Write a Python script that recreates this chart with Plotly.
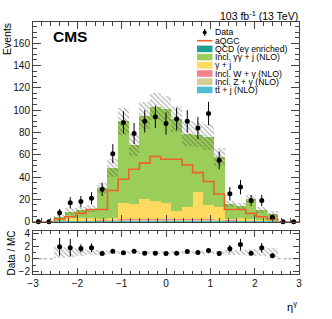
import plotly.graph_objects as go
import numpy as np

# ---------------- data ----------------
eta_centers = [-2.88, -2.64, -2.40, -2.16, -1.92, -1.68, -1.44, -1.20, -0.96, -0.72,
               -0.48, -0.24, 0.00, 0.24, 0.48, 0.72, 0.96, 1.20, 1.44, 1.68,
               1.92, 2.16, 2.40, 2.64, 2.88]
bin_width = 0.24

data_counts = [0, 0, 8, 17, 18, 21, 29, 61, 89, 79, 90, 94, 88, 92, 90, 84, 97, 55, 25, 31, 19, 19, 4, 0, 0]
data_err = [0, 0, 3.5, 5, 5, 5.5, 6, 8.5, 10, 9.5, 10, 10, 10, 10, 10, 10, 10.5, 8, 6, 6.5, 5, 5, 2.5, 0, 0]

qcd = [0, 0, 0.2, 0.3, 0.3, 0.3, 0.4, 0.5, 0.6, 0.6, 0.6, 0.6, 0.6, 0.6, 0.6, 0.6, 0.6, 0.5, 0.4, 0.3, 0.3, 0.3, 0.2, 0, 0]
ttj = [0, 0, 0.0, 0.1, 0.1, 0.1, 0.1, 0.2, 0.2, 0.2, 0.2, 0.2, 0.2, 0.2, 0.2, 0.2, 0.2, 0.2, 0.1, 0.1, 0.1, 0.1, 0.0, 0, 0]
zg = [0, 0, 0.2, 0.3, 0.3, 0.3, 0.4, 0.6, 0.7, 0.7, 0.7, 0.7, 0.7, 0.7, 0.7, 0.7, 0.7, 0.6, 0.4, 0.3, 0.3, 0.3, 0.2, 0, 0]
wg = [0, 0, 0.1, 0.2, 0.2, 0.2, 0.3, 0.4, 0.5, 0.5, 0.5, 0.5, 0.5, 0.5, 0.5, 0.5, 0.5, 0.4, 0.3, 0.2, 0.2, 0.2, 0.1, 0, 0]
gj = [0, 0, 0.5, 2.1, 2.6, 2.1, 0.8, 1.8, 14.5, 14.0, 18.5, 17.0, 15.0, 7.6, 11.0, 25.0, 13.0, 11.3, 0.8, 2.1, 1.1, 0.6, 0.0, 0, 0]
gg = [0, 0, 3.0, 6.0, 7.1, 8.7, 28.0, 44.5, 73.5, 53.0, 74.5, 84.0, 84.0, 82.4, 66.0, 51.0, 61.0, 45.0, 14.0, 11.0, 18.0, 9.0, 6.5, 0, 0]
mc_unc = [0, 0, 2, 3, 3, 3, 4.5, 8, 12, 10, 12, 12, 12, 12, 11, 11, 12, 8, 3, 3, 3.5, 3, 2.5, 0, 0]
aqgc = [0, 0, 2.4, 4.5, 7.5, 11, 11, 28, 38, 47, 52.5, 58.5, 56, 56, 50.8, 44, 36, 24.8, 11, 11, 7.5, 4.5, 2.4, 0, 0]

ratio = [None, None, 1.9, 1.75, 1.65, 1.75, 0.85, 1.2, 0.95, 1.2, 0.9, 0.9, 0.85, 0.9, 1.15, 1.0, 1.3, 0.85,
         1.6, 2.25, 0.9, 1.75, 0.5, None, None]
ratio_err = [0, 0, 1.4, 1.4, 0.65, 0.7, 0.2, 0.25, 0.15, 0.2, 0.15, 0.15, 0.15, 0.15, 0.2, 0.2, 0.2, 0.2,
             0.6, 0.9, 0.25, 0.75, 0.3, 0, 0]
ratio_band = [0, 0, 0.8, 0.65, 0.5, 0.45, 0.35, 0.3, 0.25, 0.25, 0.25, 0.25, 0.25, 0.25, 0.25, 0.25, 0.25, 0.3,
              0.35, 0.45, 0.5, 0.6, 0.7, 0, 0]

x_ticks = [-3, -2, -1, 0, 1, 2, 3]
x_ticktext = ["−3", "−2", "−1", "0", "1", "2", "3"]
y_ticks = [0, 20, 40, 60, 80, 100, 120, 140, 160]
r_ticks = [-2, 0, 2, 4]
r_ticktext = ["−2", "0", "2", "4"]

components = [  # bottom to top
    ("QCD (eγ enriched)", qcd, "rgb(32,158,150)"),
    ("tt̄ + j (NLO)", ttj, "rgb(75,190,212)"),
    ("Incl. Z + γ (NLO)", zg, "rgb(214,205,150)"),
    ("Incl. W + γ (NLO)", wg, "rgb(242,132,142)"),
    ("γ + j", gj, "rgb(255,218,95)"),
    ("Incl. γγ + j (NLO)", gg, "rgb(155,205,90)"),
]
legend_order = ["QCD (eγ enriched)", "Incl. γγ + j (NLO)", "γ + j", "Incl. W + γ (NLO)",
                "Incl. Z + γ (NLO)", "tt̄ + j (NLO)"]

# ---------------- geometry ----------------
W, H = 332, 319
ML, MR, MT, MB = 33, 33, 22, 45
PW, PH = W - ML - MR, H - MT - MB


def px2x(px):
    return (px - ML) / PW


def px2y(py):
    return (H - MB - py) / PH


FONT = "Liberation Sans, Arial, sans-serif"
ORANGE = "rgb(238,98,40)"
HATCH = "rgba(35,35,35,0.8)"

fig = go.Figure()

x = np.array(eta_centers)
cum = np.zeros(len(x))
for name, vals, col in components:
    v = np.array(vals, dtype=float)
    fig.add_trace(go.Bar(x=x, y=v, base=cum.copy(), width=bin_width, marker=dict(color=col, line=dict(width=0)),
                         xaxis="x2", yaxis="y", showlegend=False, hoverinfo="skip"))
    cum = cum + v
total = cum
unc = np.array(mc_unc, dtype=float)

hatch = dict(shape="\\", fgcolor=HATCH, bgcolor="rgba(0,0,0,0)", size=3.5, solidity=0.3, fillmode="overlay")

# MC uncertainty hatch
fig.add_trace(go.Bar(x=x, y=2 * unc, base=total - unc, width=bin_width,
                     marker=dict(color="rgba(0,0,0,0)", line=dict(width=0), pattern=hatch),
                     xaxis="x2", yaxis="y", showlegend=False, hoverinfo="skip"))

# aQGC step line
edges = list(x - bin_width / 2) + [x[-1] + bin_width / 2]
fig.add_trace(go.Scatter(x=edges, y=list(aqgc) + [aqgc[-1]], mode="lines",
                         line=dict(color=ORANGE, width=1.6, shape="hv"),
                         xaxis="x2", yaxis="y", showlegend=False, cliponaxis=False, hoverinfo="skip"))

# data
fig.add_trace(go.Scatter(x=x, y=data_counts, mode="markers",
                         marker=dict(color="black", size=5),
                         error_y=dict(type="data", array=data_err, visible=True, color="black", thickness=1, width=0),
                         xaxis="x2", yaxis="y", showlegend=False, cliponaxis=False, hoverinfo="skip"))

# ratio band
rb = np.array(ratio_band, dtype=float)
fig.add_trace(go.Bar(x=x, y=2 * rb, base=1 - rb, width=bin_width,
                     marker=dict(color="rgba(0,0,0,0)", line=dict(width=0), pattern=hatch),
                     xaxis="x", yaxis="y2", showlegend=False, hoverinfo="skip"))
# dotted line where there is no MC
for xc, tot in zip(x, total):
    if tot == 0:
        fig.add_trace(go.Scatter(x=[xc - bin_width / 2, xc + bin_width / 2], y=[0, 0], mode="lines",
                                 line=dict(color="rgb(150,150,150)", width=1, dash="dot"),
                                 xaxis="x", yaxis="y2", showlegend=False, hoverinfo="skip"))

fig.add_trace(go.Scatter(x=x, y=ratio, mode="markers", marker=dict(color="black", size=5),
                         error_y=dict(type="data", array=ratio_err, visible=True, color="black", thickness=1, width=0),
                         xaxis="x", yaxis="y2", showlegend=False, cliponaxis=False, hoverinfo="skip"))

axis_common = dict(showline=True, linecolor="#444", linewidth=1, mirror="allticks", ticks="inside",
                   tickcolor="#444", showgrid=False, zeroline=False, automargin=False,
                   tickfont=dict(family=FONT, size=10, color="#111"))

main_bottom = px2y(221.7)
ratio_top = px2y(231)

fig.update_layout(
    width=W, height=H, margin=dict(l=ML, r=MR, t=MT, b=MB),
    paper_bgcolor="white", plot_bgcolor="white", barmode="overlay", bargap=0,
    showlegend=False, font=dict(family=FONT, color="#111"),
    xaxis=dict(domain=[0, 1], range=[-3, 3], anchor="y2", tickvals=x_ticks, ticktext=x_ticktext, ticklen=6,
               minor=dict(dtick=0.2, ticklen=3, ticks="inside", tickcolor="#444"), **axis_common),
    xaxis2=dict(domain=[0, 1], range=[-3, 3], anchor="y", matches="x", tickvals=x_ticks, showticklabels=False,
                ticklen=7, minor=dict(dtick=0.2, ticklen=3.5, ticks="inside", tickcolor="#444"), **axis_common),
    yaxis=dict(domain=[main_bottom, 1], range=[0, 179], anchor="x2", tickvals=y_ticks, ticklen=8,
               minor=dict(dtick=5, ticklen=4, ticks="inside", tickcolor="#444"), **axis_common),
    yaxis2=dict(domain=[0, ratio_top], range=[-2.4, 4.4], anchor="x", tickvals=r_ticks, ticktext=r_ticktext,
                ticklen=6, minor=dict(dtick=1, ticklen=3, ticks="inside", tickcolor="#444"), **axis_common),
)

ann = []
ann.append(dict(text="<b>CMS</b>", x=px2x(50.5), y=px2y(36.5), xref="paper", yref="paper", xanchor="left",
                yanchor="middle", showarrow=False, font=dict(family=FONT, size=15.5, color="black")))
ann.append(dict(text="103 fb<sup>-1</sup> (13 TeV)", x=px2x(300), y=px2y(15), xref="paper", yref="paper",
                xanchor="right", yanchor="middle", showarrow=False, font=dict(family=FONT, size=10.5, color="black")))
ann.append(dict(text="Events", x=px2x(7), y=px2y(39), xref="paper", yref="paper", textangle=-90,
                xanchor="center", yanchor="middle", showarrow=False, font=dict(family=FONT, size=10.5, color="black")))
ann.append(dict(text="Data / MC", x=px2x(10.5), y=px2y(253), xref="paper", yref="paper", textangle=-90,
                xanchor="center", yanchor="middle", showarrow=False, font=dict(family=FONT, size=10, color="black")))
ann.append(dict(text="η<sup>γ</sup>", x=px2x(299), y=px2y(306), xref="paper", yref="paper",
                xanchor="right", yanchor="middle", showarrow=False, font=dict(family=FONT, size=11, color="black")))

# manual legend
shapes = []
rows = [32.5 + 8.2 * i for i in range(8)]
sx0, sx1, tx = 197, 212.5, 213.5
labels = ["Data", "aQGC"] + legend_order
colmap = {n: c for n, _, c in components}
for lab, ry in zip(labels, rows):
    ann.append(dict(text=lab, x=px2x(tx), y=px2y(ry), xref="paper", yref="paper", xanchor="left",
                    yanchor="middle", showarrow=False, borderpad=0,
                    font=dict(family=FONT, size=8.7, color="black")))
    if lab == "Data":
        xm = (sx0 + sx1) / 2
        shapes.append(dict(type="line", xref="paper", yref="paper", x0=px2x(xm), x1=px2x(xm),
                           y0=px2y(ry - 3.5), y1=px2y(ry + 3.5), line=dict(color="black", width=1)))
        shapes.append(dict(type="circle", xref="paper", yref="paper", x0=px2x(xm - 2), x1=px2x(xm + 2),
                           y0=px2y(ry - 2), y1=px2y(ry + 2), fillcolor="black", line=dict(color="black", width=0)))
    elif lab == "aQGC":
        shapes.append(dict(type="line", xref="paper", yref="paper", x0=px2x(sx0), x1=px2x(sx1),
                           y0=px2y(ry), y1=px2y(ry), line=dict(color=ORANGE, width=1.6)))
    else:
        shapes.append(dict(type="rect", xref="paper", yref="paper", x0=px2x(sx0), x1=px2x(sx1),
                           y0=px2y(ry - 3.3), y1=px2y(ry + 3.3), fillcolor=colmap[lab], line=dict(width=0)))

fig.update_layout(annotations=ann, shapes=shapes)
# remove the browser's default 8px page margin so the figure sits at the window's top-left corner
fig.write_html("out.html", config={"displayModeBar": False, "staticPlot": True},
               post_script="document.body.style.margin='0px';")
